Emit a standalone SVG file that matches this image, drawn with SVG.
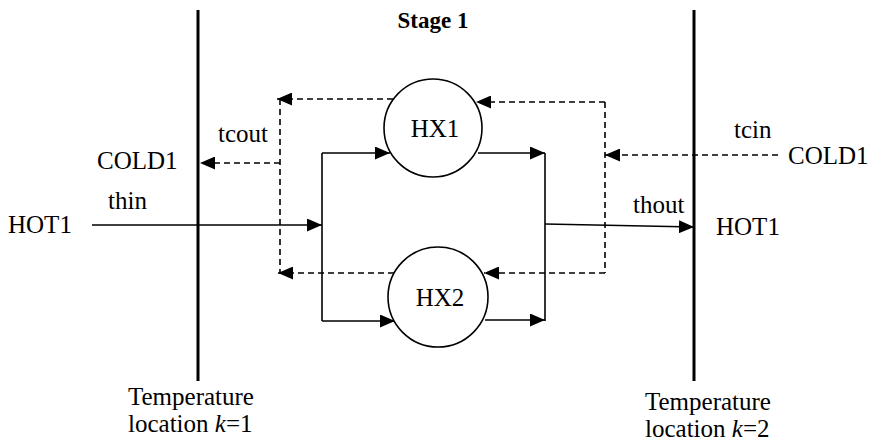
<svg xmlns="http://www.w3.org/2000/svg" width="873" height="447" viewBox="0 0 873 447">
  <style>
    text { font-family: "Liberation Serif", "Times New Roman", serif; font-size: 25px; fill: #000; }
    .title { font-weight: bold; font-size: 23px; }
    .bound { stroke: #000; stroke-width: 3; fill: none; }
    .hx { stroke: #000; stroke-width: 1.6; fill: #fff; }
    .hot { stroke: #000; stroke-width: 1.6; fill: none; }
    .cold { stroke: #000; stroke-width: 1.6; fill: none; stroke-dasharray: 6 4; }
  </style>
  <defs>
    <marker id="arrow" markerUnits="userSpaceOnUse" markerWidth="15" markerHeight="13" refX="15" refY="6.5" orient="auto">
      <path d="M0,0 L15,6.5 L0,13 Z" fill="#000"/>
    </marker>
  </defs>

  <rect width="873" height="447" fill="#fff"/>

  <text class="title" x="433" y="28" text-anchor="middle">Stage 1</text>

  <!-- temperature location boundaries -->
  <g id="boundary-k1">
    <line class="bound" x1="198" y1="10" x2="198" y2="381"/>
    <text x="128" y="405">Temperature</text>
    <text x="128" y="432">location <tspan font-style="italic">k</tspan>=1</text>
  </g>
  <g id="boundary-k2">
    <line class="bound" x1="694" y1="10" x2="694" y2="381"/>
    <text x="645" y="410">Temperature</text>
    <text x="645" y="437">location <tspan font-style="italic">k</tspan>=2</text>
  </g>

  <!-- connectors -->
  <g id="connectors">
    <!-- hot stream (solid) -->
    <line class="hot" x1="92" y1="225" x2="322" y2="225" marker-end="url(#arrow)"/>
    <line class="hot" x1="322" y1="153" x2="322" y2="321"/>
    <line class="hot" x1="322" y1="153" x2="390" y2="153" marker-end="url(#arrow)"/>
    <line class="hot" x1="322" y1="321" x2="395" y2="321" marker-end="url(#arrow)"/>
    <line class="hot" x1="478" y1="153" x2="545" y2="153" marker-end="url(#arrow)"/>
    <line class="hot" x1="485" y1="320" x2="545" y2="320" marker-end="url(#arrow)"/>
    <line class="hot" x1="545" y1="153" x2="545" y2="321"/>
    <line class="hot" x1="545" y1="224" x2="694" y2="227" marker-end="url(#arrow)"/>

    <!-- cold stream (dashed) -->
    <line class="cold" x1="778" y1="155" x2="605" y2="155" marker-end="url(#arrow)"/>
    <line class="cold" x1="605" y1="102" x2="605" y2="273"/>
    <line class="cold" x1="605" y1="102" x2="476" y2="102" marker-end="url(#arrow)"/>
    <line class="cold" x1="605" y1="273" x2="484" y2="273" marker-end="url(#arrow)"/>
    <line class="cold" x1="393" y1="99" x2="277" y2="99" marker-end="url(#arrow)"/>
    <line class="cold" x1="394" y1="273" x2="278" y2="273" marker-end="url(#arrow)"/>
    <line class="cold" x1="280" y1="99" x2="280" y2="273"/>
    <line class="cold" x1="280" y1="163" x2="200" y2="163" marker-end="url(#arrow)"/>
  </g>

  <!-- heat exchangers -->
  <g id="hx1">
    <circle class="hx" cx="433" cy="128" r="49"/>
    <text x="435" y="137" text-anchor="middle">HX1</text>
  </g>
  <g id="hx2">
    <circle class="hx" cx="438" cy="297" r="50"/>
    <text x="440" y="306" text-anchor="middle">HX2</text>
  </g>

  <!-- stream labels -->
  <g id="cold1-in">
    <text x="788" y="164">COLD1</text>
    <text x="734" y="138">tcin</text>
  </g>
  <g id="cold1-out">
    <text x="97" y="169">COLD1</text>
    <text x="218" y="142">tcout</text>
  </g>
  <g id="hot1-in">
    <text x="8" y="233">HOT1</text>
    <text x="108" y="209">thin</text>
  </g>
  <g id="hot1-out">
    <text x="716" y="235">HOT1</text>
    <text x="633" y="213">thout</text>
  </g>
</svg>
